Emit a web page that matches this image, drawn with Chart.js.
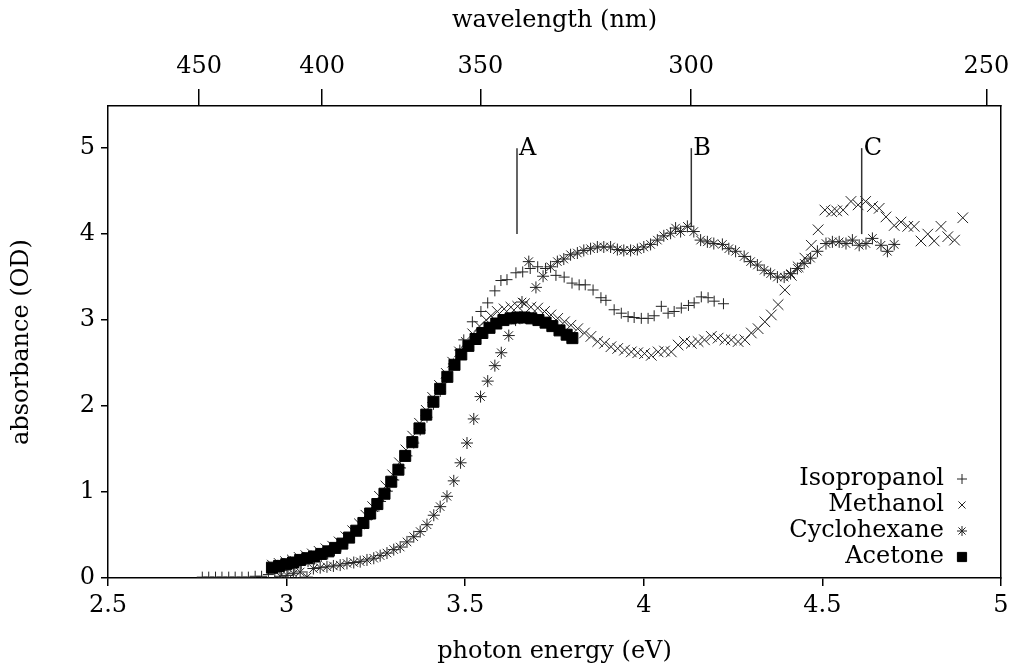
<!DOCTYPE html>
<html lang="en">
<head>
<meta charset="UTF-8">
<title>Absorbance vs photon energy</title>
<script src="https://cdn.jsdelivr.net/npm/chart.js"></script>
<style>
  html, body { margin: 0; padding: 0; background: #fff; }
</style>
</head>
<body>
<canvas id="spectra" width="1014" height="666"></canvas>
<script>
// photon energy (eV) and absorbance (OD)
const isoE = [2.764, 2.782, 2.801, 2.819, 2.838, 2.856, 2.875, 2.893, 2.912, 2.930, 2.949, 2.967, 2.986, 3.004, 3.023, 3.041,
  3.060, 3.078, 3.097, 3.115, 3.134, 3.152, 3.171, 3.189, 3.208, 3.226, 3.245, 3.263, 3.282, 3.300, 3.319, 3.337, 3.356,
  3.374, 3.393, 3.411, 3.430, 3.448, 3.467, 3.485, 3.496, 3.520, 3.544, 3.563, 3.583, 3.600, 3.617, 3.642, 3.661, 3.682,
  3.703, 3.725, 3.754, 3.777, 3.799, 3.819, 3.836, 3.858, 3.880, 3.894, 3.917, 3.937, 3.956, 3.973, 3.993, 4.012, 4.029,
  4.049, 4.068, 4.085, 4.105, 4.125, 4.141, 4.161, 4.180, 4.197, 4.223];
const isoOD = [0.01, 0.01, 0.01, 0.01, 0.01, 0.01, 0.01, 0.01, 0.02, 0.02, 0.04, 0.06, 0.09, 0.11, 0.14, 0.16,
  0.19, 0.22, 0.25, 0.28, 0.32, 0.37, 0.44, 0.51, 0.59, 0.68, 0.78, 0.89, 1.01, 1.14, 1.28, 1.42, 1.57,
  1.72, 1.87, 2.02, 2.17, 2.33, 2.49, 2.65, 2.77, 2.98, 3.10, 3.20, 3.34, 3.46, 3.47, 3.55, 3.56, 3.60,
  3.62, 3.60, 3.52, 3.50, 3.43, 3.41, 3.41, 3.35, 3.26, 3.23, 3.12, 3.08, 3.04, 3.03, 3.02, 3.02, 3.05,
  3.16, 3.08, 3.10, 3.14, 3.17, 3.20, 3.27, 3.26, 3.22, 3.19];

const metE = [2.960, 2.979, 2.997, 3.016, 3.035, 3.054, 3.072, 3.091, 3.110, 3.129, 3.147, 3.166, 3.185, 3.204, 3.222,
  3.241, 3.260, 3.278, 3.297, 3.316, 3.334, 3.353, 3.372, 3.391, 3.409, 3.428, 3.447, 3.465, 3.484, 3.503, 3.521, 3.540,
  3.559, 3.572, 3.590, 3.609, 3.628, 3.647, 3.666, 3.684, 3.703, 3.722, 3.740, 3.759, 3.778, 3.796, 3.815, 3.834, 3.852,
  3.871, 3.890, 3.908, 3.927, 3.946, 3.965, 3.983, 4.002, 4.021, 4.040, 4.058, 4.077, 4.096, 4.114, 4.133, 4.152, 4.170,
  4.189, 4.208, 4.227, 4.245, 4.264, 4.283, 4.301, 4.320, 4.339, 4.357, 4.376, 4.395, 4.413, 4.432, 4.451, 4.469, 4.488,
  4.507, 4.526, 4.540, 4.558, 4.580, 4.600, 4.621, 4.640, 4.659, 4.678, 4.701, 4.720, 4.739, 4.757, 4.776, 4.795, 4.813,
  4.832, 4.851, 4.870, 4.893];
const metOD = [0.15, 0.17, 0.19, 0.21, 0.24, 0.26, 0.28, 0.31, 0.34, 0.37, 0.42, 0.48, 0.55, 0.63, 0.73,
  0.83, 0.95, 1.07, 1.20, 1.34, 1.49, 1.65, 1.80, 1.95, 2.10, 2.24, 2.38, 2.51, 2.63, 2.74, 2.84, 2.93,
  3.00, 3.05, 3.10, 3.13, 3.15, 3.16, 3.19, 3.15, 3.14, 3.10, 3.06, 3.02, 2.98, 2.94, 2.90, 2.85, 2.81,
  2.75, 2.73, 2.69, 2.67, 2.65, 2.63, 2.62, 2.61, 2.59, 2.63, 2.64, 2.63, 2.71, 2.75, 2.73, 2.75, 2.77,
  2.81, 2.79, 2.77, 2.77, 2.75, 2.77, 2.85, 2.90, 2.98, 3.06, 3.18, 3.35, 3.52, 3.62, 3.72, 3.87, 4.05,
  4.28, 4.26, 4.27, 4.28, 4.38, 4.34, 4.38, 4.32, 4.30, 4.20, 4.10, 4.14, 4.09, 4.09, 3.92, 4.00, 3.92,
  4.09, 3.97, 3.93, 4.19];

const cycE = [2.982, 3.001, 3.019, 3.038, 3.057, 3.075, 3.094, 3.113, 3.131, 3.150, 3.169, 3.188, 3.206, 3.225, 3.244,
  3.262, 3.281, 3.300, 3.318, 3.337, 3.356, 3.374, 3.393, 3.412, 3.430, 3.449, 3.468, 3.487, 3.505, 3.524, 3.543, 3.563,
  3.583, 3.601, 3.622, 3.641, 3.659, 3.678, 3.698, 3.718, 3.739, 3.758, 3.776, 3.795, 3.814, 3.832, 3.851, 3.870, 3.888,
  3.907, 3.926, 3.944, 3.963, 3.982, 4.000, 4.019, 4.038, 4.056, 4.075, 4.089, 4.103, 4.122, 4.140, 4.159, 4.178, 4.196,
  4.220, 4.238, 4.257, 4.281, 4.299, 4.318, 4.337, 4.355, 4.374, 4.393, 4.411, 4.430, 4.449, 4.467, 4.486, 4.510, 4.528,
  4.547, 4.566, 4.584, 4.603, 4.622, 4.640, 4.664, 4.682, 4.701];
const cycOD = [0.02, 0.03, 0.05, 0.07, 0.01, 0.11, 0.12, 0.13, 0.14, 0.15, 0.17, 0.18, 0.19, 0.21, 0.23,
  0.26, 0.29, 0.33, 0.36, 0.42, 0.48, 0.54, 0.62, 0.73, 0.83, 0.95, 1.13, 1.34, 1.57, 1.85, 2.11, 2.29,
  2.47, 2.62, 2.82, 3.00, 3.21, 3.68, 3.38, 3.51, 3.62, 3.68, 3.71, 3.76, 3.78, 3.81, 3.83, 3.85, 3.85,
  3.85, 3.82, 3.81, 3.81, 3.82, 3.85, 3.88, 3.93, 3.98, 4.01, 4.07, 4.03, 4.09, 4.03, 3.93, 3.91, 3.89,
  3.88, 3.83, 3.80, 3.74, 3.68, 3.64, 3.58, 3.54, 3.50, 3.50, 3.54, 3.60, 3.66, 3.72, 3.80, 3.89, 3.91,
  3.91, 3.89, 3.93, 3.87, 3.89, 3.95, 3.87, 3.80, 3.88];

const aceE = [2.959, 2.979, 2.999, 3.018, 3.038, 3.058, 3.077, 3.097, 3.117, 3.136, 3.156, 3.175, 3.195, 3.215, 3.234,
  3.254, 3.274, 3.293, 3.313, 3.332, 3.352, 3.372, 3.391, 3.411, 3.430, 3.450, 3.470, 3.489, 3.509, 3.529, 3.548, 3.568,
  3.587, 3.607, 3.627, 3.646, 3.666, 3.685, 3.705, 3.725, 3.744, 3.764, 3.784, 3.800];
const aceOD = [0.12, 0.14, 0.16, 0.18, 0.21, 0.23, 0.25, 0.28, 0.31, 0.35, 0.40, 0.47, 0.55, 0.64, 0.75,
  0.86, 0.98, 1.12, 1.26, 1.42, 1.58, 1.74, 1.90, 2.05, 2.20, 2.34, 2.48, 2.60, 2.70, 2.78, 2.85, 2.91,
  2.96, 3.00, 3.02, 3.03, 3.03, 3.02, 3.00, 2.97, 2.93, 2.88, 2.83, 2.79];

// axes
const energyTicks = [2.5, 3, 3.5, 4, 4.5, 5];
const wavelengthTicks = [450, 400, 350, 300, 250];
const odTicks = [0, 1, 2, 3, 4, 5];

// marker lines A, B, C
const markLabels = ['A', 'B', 'C'];
const markE = [3.645, 4.133, 4.610];
const markLow = [4.0, 4.08, 4.0];
const markHigh = [5, 5, 5];

const HC = 1239.84; // eV*nm
const INK = '#000';

Chart.defaults.font.family = "'DejaVu Serif', serif";
Chart.defaults.font.size = 24;
Chart.defaults.color = INK;

function pts(xs, ys) {
    return xs.map((x, i) => ({ x: x, y: ys[i] }));
}

const markLines = {
    id: 'markLines',
    afterDatasetsDraw(chart) {
        const ctx = chart.ctx;
        const x = chart.scales.x, y = chart.scales.y;
        ctx.save();
        ctx.strokeStyle = '#333';
        ctx.lineWidth = 1.5;
        ctx.fillStyle = INK;
        ctx.font = "24px 'DejaVu Serif', serif";
        ctx.textBaseline = 'middle';
        ctx.textAlign = 'left';
        markLabels.forEach((lab, i) => {
            const px = x.getPixelForValue(markE[i]);
            ctx.beginPath();
            ctx.moveTo(px, y.getPixelForValue(markHigh[i]));
            ctx.lineTo(px, y.getPixelForValue(markLow[i]));
            ctx.stroke();
            ctx.fillText(lab, px + 2, y.getPixelForValue(markHigh[i]) + 1);
        });
        ctx.restore();
    }
};

// legend inside the plot, text right-aligned with the marker after it
const sideLegend = {
    id: 'sideLegend',
    afterDraw(chart) {
        const ctx = chart.ctx;
        const area = chart.chartArea;
        ctx.save();
        ctx.font = "24px 'DejaVu Serif', serif";
        ctx.textAlign = 'right';
        ctx.textBaseline = 'middle';
        chart.data.datasets.forEach((ds, i) => {
            const yy = area.bottom - 99 + i * 26;
            ctx.fillStyle = INK;
            ctx.fillText(ds.label, area.right - 57, yy);
            ctx.strokeStyle = ds.borderColor;
            ctx.fillStyle = ds.backgroundColor;
            ctx.lineWidth = 1;
            Chart.helpers.drawPoint(ctx, {
                pointStyle: ds.pointStyle,
                radius: ds.pointStyle === 'rect' ? 6.5 : 5,
                rotation: 0,
                borderWidth: 1
            }, area.right - 39, yy);
        });
        ctx.restore();
    }
};

const tickGrid = (len) => ({
    drawOnChartArea: false,
    drawTicks: true,
    tickLength: len,
    color: INK,
    lineWidth: 1.5
});

// keep the plot box fixed; labels may hang over the edges
function fixHeight(h) {
    return s => { s.height = h; s.paddingLeft = 0; s.paddingRight = 0; };
}

new Chart(document.getElementById('spectra'), {
    type: 'scatter',
    data: {
        datasets: [
            { label: 'Isopropanol', data: pts(isoE, isoOD), pointStyle: 'cross', pointRadius: 5.5,
              borderColor: '#222', backgroundColor: '#222', borderWidth: 1, order: 3 },
            { label: 'Methanol', data: pts(metE, metOD), pointStyle: 'crossRot', pointRadius: 7.5,
              borderColor: '#222', backgroundColor: '#222', borderWidth: 1, order: 2 },
            { label: 'Cyclohexane', data: pts(cycE, cycOD), pointStyle: 'star', pointRadius: 6,
              borderColor: '#222', backgroundColor: '#222', borderWidth: 1, order: 1 },
            { label: 'Acetone', data: pts(aceE, aceOD), pointStyle: 'rect', pointRadius: 7.8,
              borderColor: '#000', backgroundColor: '#000', borderWidth: 1, order: 0 }
        ]
    },
    options: {
        responsive: false,
        animation: false,
        devicePixelRatio: 1,
        layout: { padding: { left: 0, right: 13, top: 0, bottom: 0 } },
        plugins: {
            legend: { display: false },
            tooltip: { enabled: false }
        },
        elements: { point: { hoverRadius: 0 } },
        scales: {
            x: {
                type: 'linear',
                position: 'bottom',
                min: 2.5,
                max: 5,
                afterBuildTicks: s => { s.ticks = energyTicks.map(v => ({ value: v })); },
                afterFit: fixHeight(88),
                ticks: { padding: 5, callback: v => String(v) },
                grid: tickGrid(8),
                border: { color: INK, width: 1.5 },
                title: { display: true, text: 'photon energy (eV)', padding: { top: 0, bottom: 0 } }
            },
            x2: {
                type: 'linear',
                position: 'top',
                min: 2.5,
                max: 5,
                afterBuildTicks: s => { s.ticks = wavelengthTicks.map(nm => ({ value: HC / nm })); },
                afterFit: fixHeight(106),
                ticks: { padding: 8, callback: (v, i) => String(wavelengthTicks[i]) },
                grid: tickGrid(17),
                border: { color: INK, width: 1.5 },
                title: { display: true, text: 'wavelength (nm)', padding: { top: 6, bottom: 0 } }
            },
            y: {
                type: 'linear',
                position: 'left',
                min: 0,
                max: 5.49,
                afterBuildTicks: s => { s.ticks = odTicks.map(v => ({ value: v })); },
                afterFit: s => { s.width = 108; s.paddingTop = 0; s.paddingBottom = 0; },
                ticks: { padding: 6, callback: v => String(v) },
                grid: tickGrid(7),
                border: { color: INK, width: 1.5 },
                title: { display: true, text: 'absorbance (OD)', padding: { top: 7, bottom: 0 } }
            },
            y2: {
                type: 'linear',
                position: 'right',
                min: 0,
                max: 5.49,
                ticks: { display: false },
                grid: { display: false },
                border: { display: true, color: INK, width: 1.5 },
                afterFit: s => { s.width = 0; }
            }
        }
    },
    plugins: [markLines, sideLegend]
});
</script>
</body>
</html>
